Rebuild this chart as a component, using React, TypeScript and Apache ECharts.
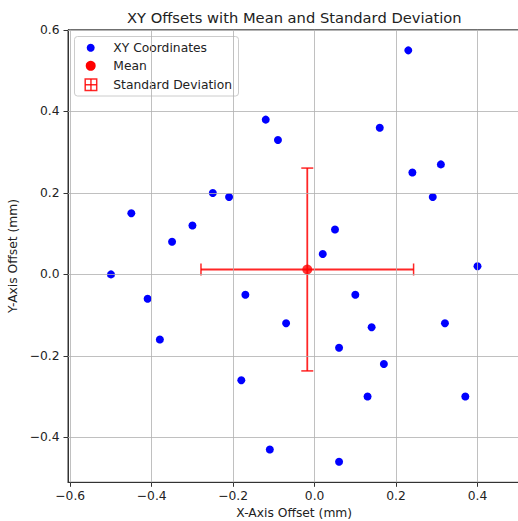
import React, { useEffect, useRef } from "react";
import * as echarts from "echarts";

const xOffsets = [-0.5, -0.45, -0.41, -0.38, -0.35, -0.3, -0.25, -0.21, -0.17, -0.18, -0.12, -0.09, -0.07, -0.11, 0.02, 0.05, 0.06, 0.06, 0.1, 0.13, 0.14, 0.16, 0.17, 0.23, 0.24, 0.29, 0.31, 0.32, 0.37, 0.4];
const yOffsets = [0.0, 0.15, -0.06, -0.16, 0.08, 0.12, 0.2, 0.19, -0.05, -0.26, 0.38, 0.33, -0.12, -0.43, 0.05, 0.11, -0.18, -0.46, -0.05, -0.3, -0.13, 0.36, -0.22, 0.55, 0.25, 0.19, 0.27, -0.12, -0.3, 0.02];
const meanXY = [-0.018, 0.012];
const stdXY = [0.261, 0.249];
const xTicks = [-0.6, -0.4, -0.2, 0.0, 0.2, 0.4];
const yTicks = [-0.4, -0.2, 0.0, 0.2, 0.4, 0.6];
const xRange = [-0.6055, 0.5055];
const yRange = [-0.5105, 0.6005];

const FONT = "DejaVu Sans";
const TXT = "#222";
const fmt = (v: number) => v.toFixed(1).replace("-", "\u2212");

export default function App() {
  const ref = useRef<HTMLDivElement>(null);
  useEffect(() => {
    if (!ref.current) return;
    const chart = echarts.init(ref.current, null, { renderer: "svg" });
    const points = xOffsets.map((x, i) => [x, yOffsets[i]]);
    const gridLineStyle = { color: "#b0b0b0", width: 1, type: "solid" as const, opacity: 0.8 };
    const axisCommon = {
      type: "value" as const,
      axisLine: { show: true, onZero: false, lineStyle: { color: "#333", width: 1 } },
      axisTick: { show: true, inside: false, length: 4.5, lineStyle: { color: "#333", width: 1 } },
      splitLine: { show: false },
      nameLocation: "middle" as const,
      nameTextStyle: { fontFamily: FONT, fontSize: 12.3, color: TXT },
    };
    chart.setOption({
      animation: false,
      backgroundColor: "#fff",
      textStyle: { fontFamily: FONT },
      grid: {
        left: 68,
        top: 29.8,
        width: 452.5,
        height: 452.5,
        show: true,
        borderColor: "#333",
        borderWidth: 1,
        backgroundColor: "transparent",
        containLabel: false,
        outerBoundsMode: "none",
      },
      xAxis: {
        ...axisCommon,
        min: xRange[0],
        max: xRange[1],
        name: "X-Axis Offset (mm)",
        nameGap: 23,
        axisTick: { ...axisCommon.axisTick, customValues: xTicks },
        axisLabel: {
          customValues: xTicks,
          formatter: fmt,
          fontFamily: FONT,
          fontSize: 12.3,
          color: TXT,
          margin: 8,
        },
      },
      yAxis: {
        ...axisCommon,
        min: yRange[0],
        max: yRange[1],
        name: "Y-Axis Offset (mm)",
        nameGap: 45,
        axisTick: { ...axisCommon.axisTick, customValues: yTicks },
        axisLabel: {
          customValues: yTicks,
          formatter: fmt,
          fontFamily: FONT,
          fontSize: 12.3,
          color: TXT,
          margin: 8.5,
        },
      },
      series: [
        {
          type: "scatter",
          data: [],
          z: 0,
          silent: true,
          markLine: {
            silent: true,
            symbol: ["none", "none"],
            label: { show: false },
            lineStyle: gridLineStyle,
            animation: false,
            data: [
              ...xTicks.map((v) => ({ xAxis: v })),
              ...yTicks.map((v) => ({ yAxis: v })),
            ],
          },
        },
        {
          name: "XY Coordinates",
          type: "scatter",
          data: points,
          symbol: "circle",
          symbolSize: 8,
          itemStyle: { color: "#0000ff", opacity: 1 },
          z: 2,
        },
        {
          name: "Standard Deviation",
          type: "custom",
          coordinateSystem: "cartesian2d",
          data: [[meanXY[0], meanXY[1], stdXY[0], stdXY[1]]],
          encode: { x: 0, y: 1 },
          z: 3,
          renderItem: (params: any, api: any) => {
            const mx = api.value(0);
            const my = api.value(1);
            const sx = api.value(2);
            const sy = api.value(3);
            const l = api.coord([mx - sx, my]);
            const r = api.coord([mx + sx, my]);
            const t = api.coord([mx, my + sy]);
            const b = api.coord([mx, my - sy]);
            const cap = 6;
            const st = { stroke: "rgba(255,0,0,0.85)", lineWidth: 1.8 };
            const capSt = { stroke: "rgba(255,0,0,0.85)", lineWidth: 1.5 };
            return {
              type: "group",
              children: [
                { type: "line", shape: { x1: l[0], y1: l[1], x2: r[0], y2: r[1] }, style: st },
                { type: "line", shape: { x1: t[0], y1: t[1], x2: b[0], y2: b[1] }, style: st },
                { type: "line", shape: { x1: l[0], y1: l[1] - cap, x2: l[0], y2: l[1] + cap }, style: capSt },
                { type: "line", shape: { x1: r[0], y1: r[1] - cap, x2: r[0], y2: r[1] + cap }, style: capSt },
                { type: "line", shape: { x1: t[0] - cap, y1: t[1], x2: t[0] + cap, y2: t[1] }, style: capSt },
                { type: "line", shape: { x1: b[0] - cap, y1: b[1], x2: b[0] + cap, y2: b[1] }, style: capSt },
              ],
            };
          },
        },
        {
          name: "Mean",
          type: "scatter",
          data: [meanXY],
          symbol: "circle",
          symbolSize: 10,
          itemStyle: { color: "#ff0000" },
          z: 4,
        },
      ],
      graphic: [
        {
          type: "text",
          x: 294.3,
          y: 17,
          style: {
            text: "XY Offsets with Mean and Standard Deviation",
            font: `14.7px "${FONT}"`,
            fill: TXT,
            align: "center",
            verticalAlign: "middle",
          },
          z: 10,
        },
        {
          type: "group",
          z: 10,
          children: [
            {
              type: "rect",
              shape: { x: 74.5, y: 36.5, width: 164, height: 59.5, r: 3 },
              style: { fill: "rgba(255,255,255,0.8)", stroke: "#cccccc", lineWidth: 1 },
            },
            { type: "circle", shape: { cx: 90.7, cy: 47.7, r: 4 }, style: { fill: "#0000ff" } },
            {
              type: "text",
              x: 113.3,
              y: 47.7,
              style: { text: "XY Coordinates", font: `12.3px "${FONT}"`, fill: TXT, verticalAlign: "middle" },
            },
            { type: "circle", shape: { cx: 90.7, cy: 65.8, r: 5 }, style: { fill: "#ff0000" } },
            {
              type: "text",
              x: 113.3,
              y: 65.8,
              style: { text: "Mean", font: `12.3px "${FONT}"`, fill: TXT, verticalAlign: "middle" },
            },
            {
              type: "rect",
              shape: { x: 85.2, y: 79, width: 11.5, height: 11.5 },
              style: { fill: "none", stroke: "rgba(255,0,0,0.85)", lineWidth: 1.5 },
            },
            {
              type: "line",
              shape: { x1: 90.95, y1: 79, x2: 90.95, y2: 90.5 },
              style: { stroke: "rgba(255,0,0,0.85)", lineWidth: 1.5 },
            },
            {
              type: "line",
              shape: { x1: 85.2, y1: 84.75, x2: 96.7, y2: 84.75 },
              style: { stroke: "rgba(255,0,0,0.85)", lineWidth: 1.5 },
            },
            {
              type: "text",
              x: 113.3,
              y: 84.5,
              style: { text: "Standard Deviation", font: `12.3px "${FONT}"`, fill: TXT, verticalAlign: "middle" },
            },
          ],
        },
      ],
    });
    return () => chart.dispose();
  }, []);
  return (
    <div
      ref={ref}
      style={{ position: "absolute", left: 0, top: 0, width: 518, height: 521 }}
    />
  );
}
